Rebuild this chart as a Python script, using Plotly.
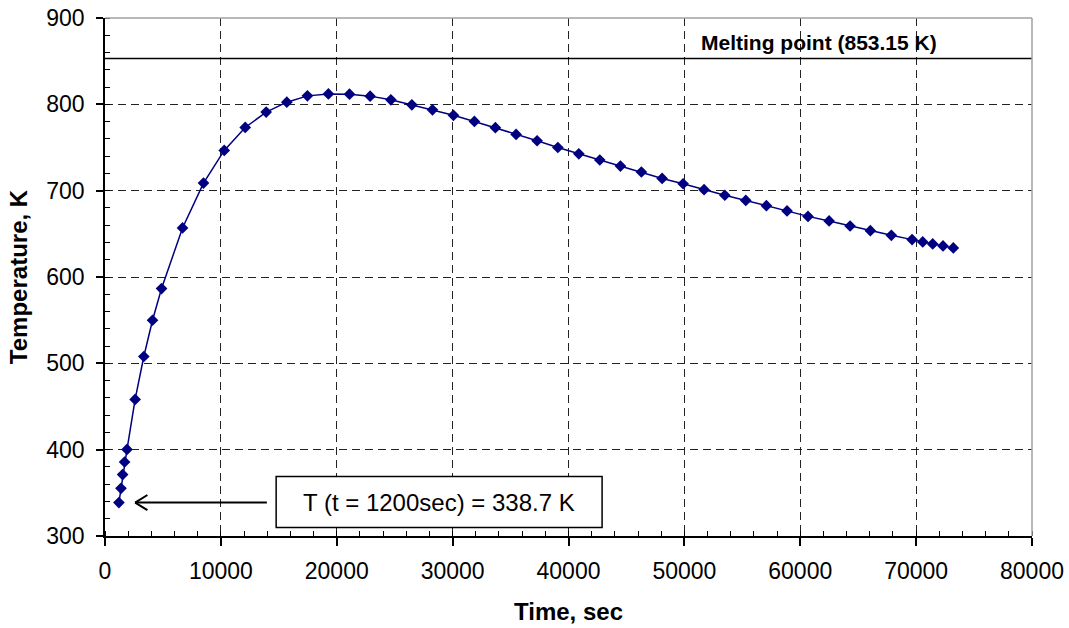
import plotly.graph_objects as go

time_s = [1200, 1380, 1520, 1690, 1900, 2600, 3350, 4100, 4880, 6690, 8500,
          10290, 12100, 13910, 15690, 17470, 19280, 21100, 22880, 24670,
          26480, 28260, 30070, 31880, 33690, 35480, 37290, 39080, 40890,
          42700, 44480, 46290, 48080, 49890, 51700, 53490, 55300, 57080,
          58860, 60670, 62490, 64300, 66050, 67860, 69650, 70570, 71430,
          72320, 73210]
temp_K = [338.7, 355.2, 371.1, 385.7, 400.3, 458.2, 507.9, 549.9, 586.6,
          656.8, 708.8, 746.6, 773.2, 791.0, 802.5, 809.8, 812.1, 811.8,
          809.5, 805.2, 799.4, 793.6, 787.3, 780.2, 773.0, 765.1, 757.8,
          750.0, 742.7, 735.5, 728.5, 721.6, 714.2, 708.0, 701.1, 694.7,
          688.7, 682.6, 676.5, 670.2, 664.9, 659.1, 653.7, 648.3, 643.3,
          640.6, 638.3, 636.0, 633.7]

melting_point = 853.15
melting_label = "Melting point (853.15 K)"
note_time = 1200
note_temp = 338.7
note_label = "T (t = 1200sec) = 338.7 K"

x_range = [0, 80000]
y_range = [300, 900]

FONT = "Arial, Liberation Sans, Helvetica, sans-serif"
NAVY = "#000080"

fig = go.Figure()
fig.add_trace(go.Scatter(
    x=time_s, y=temp_K, mode="lines+markers",
    line=dict(color=NAVY, width=1.5),
    marker=dict(symbol="diamond", size=9, color=NAVY),
    showlegend=False, hoverinfo="x+y",
))

# melting point line
fig.add_shape(type="line", xref="x", yref="y", x0=x_range[0], x1=x_range[1] + 400,
              y0=melting_point, y1=melting_point, line=dict(color="black", width=1.5))
fig.add_annotation(x=61600, y=melting_point, xref="x", yref="y", text="<b>" + melting_label + "</b>",
                   showarrow=False, yanchor="bottom", yshift=2,
                   font=dict(family=FONT, size=21, color="black"))

# plot-area top/right border (grey)
fig.add_shape(type="line", xref="paper", yref="paper", x0=0, x1=1, y0=1, y1=1,
              line=dict(color="#a0a0a0", width=1.5))
fig.add_shape(type="line", xref="paper", yref="paper", x0=1, x1=1, y0=0, y1=1,
              line=dict(color="#a0a0a0", width=1.5))

# note box
fig.add_shape(type="rect", xref="x", yref="y", x0=14770, x1=42900, y0=309.8, y1=368.8,
              line=dict(color="black", width=1.5), fillcolor="white")
fig.add_annotation(x=(14770 + 42900) / 2, y=(309.8 + 368.8) / 2, xref="x", yref="y",
                   text=note_label, showarrow=False,
                   font=dict(family=FONT, size=24, color="black"))
# arrow pointing at the first point
tip_x = note_time + 1400
fig.add_shape(type="line", xref="x", yref="y", x0=tip_x, x1=13970, y0=note_temp, y1=note_temp,
              line=dict(color="black", width=2))
fig.add_shape(type="line", xref="x", yref="y", x0=tip_x, x1=tip_x + 1060, y0=note_temp, y1=note_temp + 8.8,
              line=dict(color="black", width=2))
fig.add_shape(type="line", xref="x", yref="y", x0=tip_x, x1=tip_x + 1060, y0=note_temp, y1=note_temp - 8.8,
              line=dict(color="black", width=2))

grid = dict(showgrid=True, gridcolor="#222222", gridwidth=1, griddash="8px,5px")

fig.update_xaxes(
    range=x_range, dtick=10000, tick0=0, tickformat="d",
    showline=True, linecolor="black", linewidth=1.5,
    ticks="outside", ticklen=8, tickwidth=1.5, tickcolor="black",
    minor=dict(ticks="inside", dtick=2000, ticklen=5, tickwidth=1, tickcolor="black", showgrid=False),
    tickfont=dict(family=FONT, size=23, color="black"),
    title=dict(text="<b>Time, sec</b>", font=dict(family=FONT, size=24, color="black"), standoff=20),
    zeroline=False, ticklabelstandoff=6, automargin=False, **grid,
)
fig.update_yaxes(
    range=y_range, dtick=100, tick0=300,
    showline=True, linecolor="black", linewidth=1.5,
    ticks="outside", ticklen=7, tickwidth=1.5, tickcolor="black",
    minor=dict(ticks="inside", dtick=20, ticklen=5, tickwidth=1, tickcolor="black", showgrid=False),
    tickfont=dict(family=FONT, size=23, color="black"),
    title=dict(text="<b>Temperature, K</b>", font=dict(family=FONT, size=24, color="black"), standoff=12),
    zeroline=False, ticklabelstandoff=7, automargin=False, **grid,
)

fig.update_layout(
    width=1069, height=628,
    margin=dict(l=105, r=37, t=18, b=92),
    paper_bgcolor="white", plot_bgcolor="white",
    font=dict(family=FONT, color="black"),
    showlegend=False,
)

fig.write_html("out.html")
